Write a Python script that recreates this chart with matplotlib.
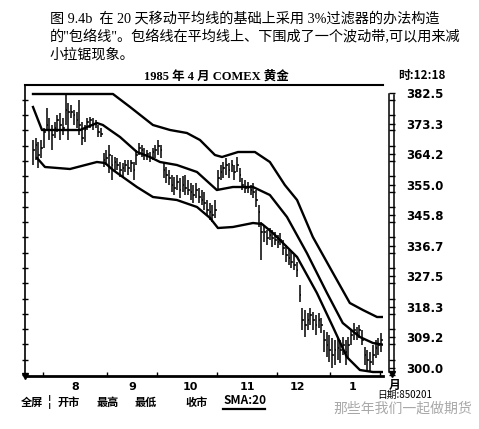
import matplotlib
matplotlib.use("Agg")
import matplotlib.pyplot as plt
import numpy as np
from matplotlib.ticker import MultipleLocator, FixedLocator
from matplotlib.lines import Line2D

CJK = ['Liberation Serif', 'Noto Sans CJK SC', 'DejaVu Sans']
SANS = ['Noto Sans CJK SC', 'DejaVu Sans']

# daily bars, late July 1984 .. end of Jan 1985 (trading-day index)
highs = [368.4, 369.0, 367.8, 368.4, 372.0, 378.0, 375.0, 372.9, 373.8, 375.9,
         376.5, 375.0, 381.9, 379.5, 378.9, 377.4, 376.8, 380.4, 373.8, 372.9,
         375.0, 375.3, 375.0, 374.4, 372.9, 372.0, 364.5, 365.4, 366.9, 363.9,
         363.3, 363.0, 361.8, 361.5, 362.4, 362.4, 362.4, 361.8, 365.4, 367.5,
         366.9, 366.0, 365.4, 364.8, 366.0, 366.9, 368.4, 366.9, 361.5, 360.3,
         359.4, 357.9, 357.3, 357.9, 357.0, 357.6, 357.9, 356.4, 355.5, 354.9,
         355.5, 354.0, 353.4, 352.8, 350.4, 349.5, 348.9, 350.4, 359.4, 360.9,
         361.8, 363.0, 361.5, 362.4, 360.9, 363.3, 360.0, 357.0, 356.4, 355.8,
         354.9, 355.5, 353.4, 348.9, 343.8, 342.9, 341.4, 342.0, 341.4, 340.8,
         339.9, 340.5, 338.4, 336.9, 335.4, 334.8, 333.9, 331.8, 324.9, 318.0,
         317.4, 316.5, 318.0, 316.8, 315.9, 316.5, 315.0, 311.4, 310.8, 309.9,
         309.0, 308.4, 309.3, 308.4, 309.3, 308.4, 309.3, 311.4, 313.5, 312.3,
         312.9, 311.4, 306.3, 305.4, 304.8, 306.9, 308.4, 309.0, 310.5]
lows = [360.9, 362.4, 360.0, 363.0, 366.0, 371.4, 368.4, 365.4, 369.0, 370.8,
        368.4, 369.9, 372.9, 368.4, 375.0, 372.9, 372.0, 369.9, 366.9, 367.8,
        371.4, 372.0, 371.4, 372.0, 369.3, 369.3, 360.3, 360.9, 358.5, 356.4,
        358.8, 359.4, 357.3, 357.3, 358.8, 357.9, 358.8, 356.4, 360.9, 363.9,
        363.3, 362.4, 362.4, 361.8, 362.4, 363.0, 363.9, 363.0, 357.0, 355.5,
        354.9, 352.8, 351.9, 353.4, 351.0, 352.8, 351.9, 351.9, 350.4, 349.5,
        351.0, 349.5, 348.9, 347.4, 345.9, 344.4, 343.8, 345.0, 353.4, 356.4,
        357.0, 357.9, 357.0, 358.8, 356.4, 358.8, 355.8, 353.4, 352.5, 352.5,
        351.9, 351.0, 348.3, 342.3, 332.4, 337.8, 336.9, 338.4, 336.3, 336.9,
        336.0, 336.9, 333.9, 331.8, 330.9, 330.0, 329.4, 327.3, 319.8, 311.4,
        309.3, 311.4, 312.9, 311.4, 309.9, 312.0, 310.5, 304.8, 303.3, 301.8,
        300.0, 300.9, 302.4, 301.5, 303.9, 300.9, 303.0, 306.9, 308.4, 308.4,
        309.0, 306.9, 300.9, 299.4, 298.8, 300.9, 303.0, 303.9, 304.8]
closes = [365.4, 366.9, 363.9, 366.0, 370.8, 372.9, 371.4, 369.9, 372.0, 374.4,
          372.9, 372.0, 377.4, 376.8, 376.8, 375.9, 374.4, 372.9, 369.0, 371.4,
          373.8, 374.4, 372.9, 373.2, 370.8, 370.2, 362.4, 363.0, 363.9, 360.9,
          361.8, 360.9, 359.4, 360.0, 360.9, 360.0, 361.5, 359.4, 363.9, 366.0,
          365.4, 363.9, 364.2, 363.0, 364.8, 365.4, 366.6, 365.4, 359.4, 357.9,
          357.0, 354.9, 354.0, 355.8, 353.4, 354.9, 354.0, 353.4, 352.8, 351.9,
          353.4, 351.3, 350.4, 349.5, 347.4, 346.8, 345.9, 347.4, 357.0, 358.8,
          360.0, 360.9, 359.4, 360.9, 358.8, 360.9, 357.9, 354.9, 354.0, 354.0,
          353.4, 352.8, 350.4, 346.8, 340.8, 340.8, 339.0, 339.9, 339.0, 338.4,
          337.8, 338.4, 336.0, 333.9, 333.0, 331.8, 330.9, 329.4, 321.9, 314.4,
          312.9, 314.4, 315.9, 314.4, 312.9, 314.4, 312.9, 308.4, 306.9, 305.4,
          303.9, 305.4, 306.0, 305.4, 306.9, 304.8, 306.9, 309.9, 311.4, 310.5,
          311.4, 308.4, 303.9, 302.4, 301.8, 303.9, 306.0, 306.9, 308.4]
days = np.arange(len(highs))

# 20-day SMA and the 3% envelope
sma_day = [0, 3.3, 9.9, 17.3, 23.5, 25.7, 28.3, 32, 38.2, 43, 46.7, 52.9, 60.3,
           67.6, 73.5, 80.9, 87.1, 93.4, 100.7, 108.1, 113.9, 120.2, 125, 129.4]
sma_val = [378.3, 371.4, 371.4, 371.4, 373.5, 372.9, 371.4, 369.3, 364.8, 363.3,
           361.8, 360.9, 358.8, 353.4, 354.3, 354.3, 351.9, 345.3, 334.5, 322.5,
           313.5, 309.3, 307.5, 306.9]
upper_day = [0, 29.4, 35.7, 44.1, 50.4, 56.6, 61.4, 66.9, 69.5, 75.4, 81.6, 87.1,
             92.6, 97.1, 102.9, 110.3, 116.5, 121.3, 126.5, 129.4]
upper_val = [382.2, 382.2, 378.3, 372.9, 371.4, 370.5, 368.4, 363.9, 363.3, 364.8,
             364.8, 361.8, 354.9, 350.4, 339.3, 328.5, 319.5, 317.4, 315.3, 315.3]
lower_day = [1.5, 4.4, 13.6, 23.5, 26.5, 29.4, 38.2, 44.1, 52.9, 60.3, 65.1, 68.0,
             73.5, 80.9, 84.2, 88.2, 97.1, 104.4, 110.3, 115.4, 120.2, 125, 129.4]
lower_val = [363.0, 360.3, 359.7, 361.8, 361.5, 359.4, 354.3, 351.3, 350.4, 348.3,
             345.0, 342.0, 342.3, 343.5, 343.2, 340.5, 333.3, 322.5, 312.3, 303.3,
             299.4, 298.8, 298.8]

month_labels = ['8', '9', '10', '11', '12', '1']
month_centers = [15.4, 36.4, 57.7, 79, 97.4, 117.6]
month_edges = [3.7, 27.2, 45.6, 67.6, 89.7, 109.2, 127.6]
price_labels = ['300.0', '309.2', '318.3', '327.5', '336.7', '345.8',
                '355.0', '364.2', '373.3', '382.5']
price_ticks = [300.0, 309.1667, 318.3333, 327.5, 336.6667, 345.8333,
               355.0, 364.1667, 373.3333, 382.5]

W, H = 479, 429
fig = plt.figure(figsize=(W / 100, H / 100), dpi=100)
ax = fig.add_axes([25 / W, 1 - 376 / H, 358 / W, 291 / H])
ax.set_xlim(-2.94, 128.7)
ax.set_ylim(297.6, 384.9)

ax.vlines(days, lows, highs, color='black', lw=1.1)
ax.hlines(closes, days, days + 0.6, color='black', lw=1.1)
ax.plot(upper_day, upper_val, color='black', lw=1.7)
ax.plot(sma_day, sma_val, color='black', lw=1.7)
ax.plot(lower_day, lower_val, color='black', lw=1.7)

ax.spines['right'].set_visible(False)
ax.spines['top'].set_linewidth(1.5)
ax.spines['left'].set_linewidth(1.2)
ax.spines['bottom'].set_linewidth(2.0)

ax.set_xticks(month_centers, month_labels)
ax.xaxis.set_minor_locator(FixedLocator(month_edges))
ax.tick_params(axis='x', which='major', length=0, pad=4)
ax.tick_params(axis='x', which='minor', length=3, width=1, direction='in')
for t in ax.get_xticklabels():
    t.set_fontsize(8)
    t.set_fontweight('bold')
ax.yaxis.set_major_locator(MultipleLocator(82.5 / 18))
ax.tick_params(axis='y', which='major', length=5, width=1, direction='inout',
               labelleft=False)
ax.plot([0], [0], marker='v', color='black', ms=4, transform=ax.transAxes,
        clip_on=False)

ax2 = ax.twinx()
ax2.set_ylim(ax.get_ylim())
for s in ['top', 'left', 'bottom']:
    ax2.spines[s].set_visible(False)
ax2.spines['right'].set_position(('outward', 4))
ax2.spines['right'].set_bounds(298.8, 382.2)
ax2.spines['right'].set_linewidth(1.1)
ax2.set_yticks(price_ticks, price_labels)
ax2.yaxis.set_minor_locator(MultipleLocator(82.5 / 18))
ax2.tick_params(axis='y', which='both', length=4, width=1, direction='out',
                pad=9)
for t in ax2.get_yticklabels():
    t.set_fontfamily(['Liberation Sans Narrow', 'DejaVu Sans'])
    t.set_fontweight('bold')
    t.set_fontsize(8.5)
fig.add_artist(Line2D([394 / W, 394 / W], [1 - 372 / H, 1 - 95 / H],
                      color='black', lw=1.1, transform=fig.transFigure))
fig.add_artist(Line2D([391.5 / W], [1 - 374 / H], marker='v', color='black',
                      ms=4, transform=fig.transFigure))

# header text
fig.text(50 / W, 1 - 19 / H, '图 9.4b  在 20 天移动平均线的基础上采用 3%过滤器的办法构造',
         fontsize=10.2, family=CJK, va='center', ha='left')
fig.text(50 / W, 1 - 37 / H, '的"包络线"。包络线在平均线上、下围成了一个波动带,可以用来减',
         fontsize=10.2, family=CJK, va='center', ha='left')
fig.text(50 / W, 1 - 55 / H, '小拉锯现象。',
         fontsize=10.2, family=CJK, va='center', ha='left')
fig.text(216 / W, 1 - 76 / H, '1985 年 4 月 COMEX 黄金', fontsize=9,
         family=CJK, weight='bold', va='center', ha='center')
fig.text(398 / W, 1 - 75 / H, '时:12:18', fontsize=8.5,
         family=['Liberation Sans Narrow', 'Noto Sans CJK SC', 'DejaVu Sans'],
         weight='bold', va='center', ha='left')
fig.text(395 / W, 1 - 385 / H, '月', fontsize=8.5, family=SANS, weight='bold',
         va='center', ha='center')

# bottom menu line
menu = [('全屏', 21), ('¦', 48), ('开市', 58), ('最高', 97), ('最低', 135), ('收市', 185)]
for txt, x in menu:
    fig.text(x / W, 1 - 402 / H, txt, fontsize=8, family=SANS, weight='bold',
             va='center', ha='left')
fig.text(223 / W, 1 - 401 / H, 'SMA:20', fontsize=8.5, family=SANS,
         weight='bold', va='center', ha='left')
fig.add_artist(Line2D([223 / W, 265 / W], [1 - 409 / H, 1 - 409 / H],
                      color='black', lw=1.6, transform=fig.transFigure))
fig.text(377 / W, 1 - 395 / H, '日期:850201', fontsize=7, family=SANS,
         va='center', ha='left')
fig.text(333 / W, 1 - 409 / H, '那些年我们一起做期货', fontsize=10, family=SANS,
         color='#a8a8a8', va='center', ha='left')

fig.savefig('out.png', dpi=100)
